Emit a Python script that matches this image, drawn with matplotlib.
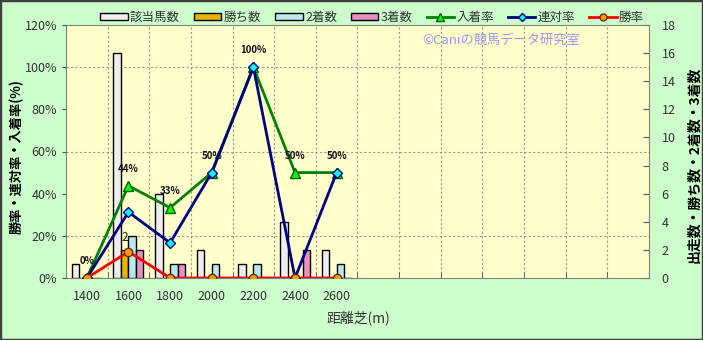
import numpy as np
import matplotlib.pyplot as plt
from matplotlib.patches import Patch, Rectangle
from matplotlib.lines import Line2D

plt.rcParams['font.family'] = ['Noto Sans CJK JP', 'DejaVu Sans']

# data
distances = ['1400', '1600', '1800', '2000', '2200', '2400', '2600']
n_slots = 14
runners = [1, 16, 6, 2, 1, 4, 2]
wins = [0, 2, 0, 0, 0, 0, 0]
seconds = [0, 3, 1, 1, 1, 0, 1]
thirds = [0, 2, 1, 0, 0, 2, 0]
win_rate = [0, 12.5, 0, 0, 0, 0, 0]
rentai_rate = [0, 31.25, 16.67, 50, 100, 0, 50]
place_rate = [0, 43.75, 33.33, 50, 100, 50, 50]
place_labels = ['0%', '44%', '33%', '50%', '100%', '50%', '50%']

fig = plt.figure(figsize=(7.03, 3.4), dpi=100)
fig.patch.set_facecolor('#CCFFCC')
fig.patches.append(Rectangle((0, 0), 1, 1, transform=fig.transFigure,
                             fill=False, edgecolor='#404040', linewidth=2.5))

ax = fig.add_axes([66/703, 1-278/340, (649-66)/703, (278-25)/340])
ax.set_facecolor('#FFFFCC')
ax2 = ax.twinx()

x = np.arange(len(distances))
w = 0.18
bar_kw = dict(width=w, edgecolor='black', linewidth=1.0, zorder=2)
ax.bar(x - 1.5*w, runners, color='#EEEEEE', **bar_kw)
ax.bar(x - 0.5*w, wins, color='#E8B400', **bar_kw)
ax.bar(x + 0.5*w, seconds, color='#B8E8F0', **bar_kw)
ax.bar(x + 1.5*w, thirds, color='#E890C0', **bar_kw)
for i, v in enumerate(wins):
    if v > 0:
        ax.annotate(str(v), (x[i] - 0.5*w, v), xytext=(0, 9), textcoords='offset points',
                    ha='center', va='center', fontsize=8.5, color='#222222')

ax.set_xlim(-0.5, n_slots - 0.5)
ax.set_ylim(0, 18)
ax.yaxis.tick_right()
ax.yaxis.set_label_position('right')
ax.set_yticks(range(0, 19, 2))
ax.set_yticks(range(0, 19, 3), minor=True)
ax.set_xticks(x)
ax.set_xticklabels(distances)
ax.set_xticks(np.arange(-0.5, n_slots), minor=True)
ax.tick_params(axis='y', which='major', direction='in', length=4, labelsize=9,
               labelcolor='#333333', pad=9, color='#555555')
ax.tick_params(axis='y', which='minor', length=0)
ax.tick_params(axis='x', which='major', length=0, labelsize=9, labelcolor='#333333', pad=9)
ax.tick_params(axis='x', which='minor', direction='in', length=4, color='#555555')
ax.grid(which='minor', color='#999999', linestyle=(0, (2, 2)), linewidth=0.8, zorder=0)
ax.set_axisbelow(True)
for s in ax.spines.values():
    s.set_color('#808080')
ax.set_ylabel('出走数・勝ち数・2着数・3着数', fontsize=10, fontweight='bold')
ax.yaxis.set_label_coords((687-66)/583, (278-165)/253)
ax.set_xlabel('距離芝(m)', fontsize=10, color='#333333')
ax.xaxis.set_label_coords((358-66)/583, -(310-278)/253)

ax2.yaxis.tick_left()
ax2.yaxis.set_label_position('left')
ax2.set_ylim(0, 120)
ax2.set_yticks(range(0, 121, 20))
ax2.set_yticklabels([f'{v}%' for v in range(0, 121, 20)])
ax2.tick_params(axis='y', direction='out', length=3, labelsize=9, labelcolor='#333333',
                color='#555555')
for s in ax2.spines.values():
    s.set_visible(False)
ax2.set_ylabel('勝率・連対率・入着率(%)', fontsize=9.5, fontweight='bold')
ax2.yaxis.set_label_coords((24-66)/583, (278-157)/253)

ax2.plot(x, place_rate, color='#008000', linewidth=2, marker='^', markersize=7,
         markerfacecolor='#00FF00', markeredgecolor='#006000', zorder=3)
ax2.plot(x, rentai_rate, color='#000080', linewidth=2, marker='D', markersize=5,
         markerfacecolor='#00FFFF', markeredgecolor='#000080', zorder=4)
ax2.plot(x, win_rate, color='#FF0000', linewidth=2, marker='o', markersize=6,
         markerfacecolor='#FF9900', markeredgecolor='#663300', zorder=5)
for i, lab in enumerate(place_labels):
    ax2.annotate(lab, (x[i], place_rate[i]), xytext=(0, 12), textcoords='offset points',
                 ha='center', va='center', fontsize=7, fontweight='bold', color='#111111')

fig.text(580/703, 1-40/340, '©Caniの競馬データ研究室', ha='right', va='center',
         fontsize=9.5, color='#9999EE')

handles = [
    Patch(facecolor='#EEEEEE', edgecolor='black'),
    Patch(facecolor='#E8B400', edgecolor='black'),
    Patch(facecolor='#B8E8F0', edgecolor='black'),
    Patch(facecolor='#E890C0', edgecolor='black'),
    Line2D([], [], color='#008000', lw=2, marker='^', markersize=6,
           markerfacecolor='#00FF00', markeredgecolor='#006000'),
    Line2D([], [], color='#000080', lw=2, marker='D', markersize=4,
           markerfacecolor='#00FFFF', markeredgecolor='#000080'),
    Line2D([], [], color='#FF0000', lw=2, marker='o', markersize=5,
           markerfacecolor='#FF9900', markeredgecolor='#663300'),
]
labels = ['該当馬数', '勝ち数', '2着数', '3着数', '入着率', '連対率', '勝率']
fig.legend(handles, labels, loc='center', bbox_to_anchor=(372/703, 1-17/340), ncol=7,
           frameon=False, fontsize=9, handlelength=2.2, handleheight=0.5,
           columnspacing=1.1, handletextpad=0.2, labelcolor='#333333')

fig.savefig('out.png', dpi=100, facecolor=fig.get_facecolor())
